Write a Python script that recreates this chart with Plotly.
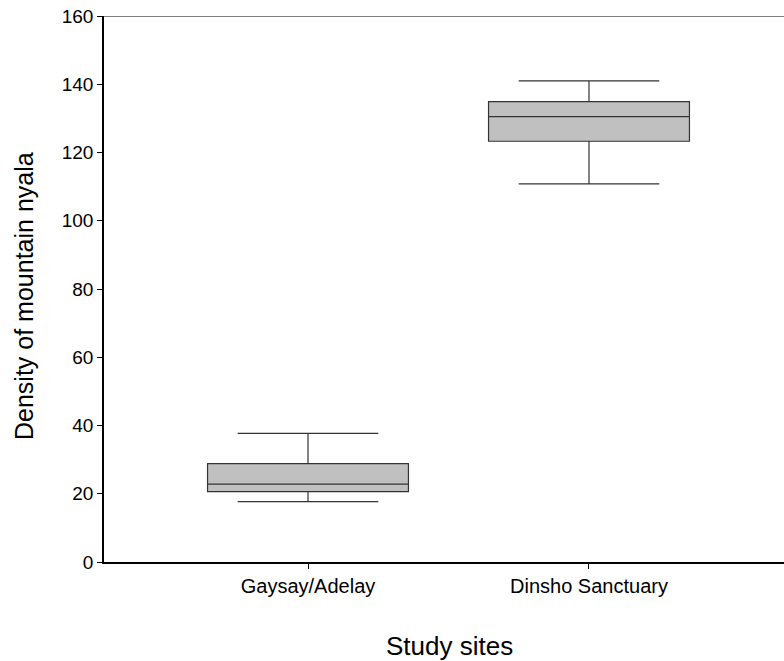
import plotly.graph_objects as go

sites = ["Gaysay/Adelay", "Dinsho Sanctuary"]
positions = [0, 1]
lower_whisker = [17.7, 110.8]
q1 = [20.6, 123.3]
median = [22.8, 130.5]
q3 = [28.8, 134.9]
upper_whisker = [37.7, 141.0]
y_ticks = [0, 20, 40, 60, 80, 100, 120, 140, 160]

fig = go.Figure()
fig.add_trace(go.Box(
    x=positions,
    q1=q1, median=median, q3=q3,
    lowerfence=lower_whisker, upperfence=upper_whisker,
    width=0.715,
    whiskerwidth=0.7,
    fillcolor="#c0c0c0",
    line=dict(color="#333333", width=1.2),
    boxpoints=False,
    hoverinfo="skip",
    showlegend=False,
))

font_family = "Liberation Sans, Arial, sans-serif"

fig.update_layout(
    width=784, height=661,
    margin=dict(l=104, r=0, t=16, b=99),
    paper_bgcolor="white", plot_bgcolor="white",
    font=dict(family=font_family, color="black"),
    xaxis=dict(
        range=[-0.726, 1.694],
        tickmode="array", tickvals=positions, ticktext=sites,
        showline=True, linecolor="black", linewidth=1.5,
        ticks="outside", ticklen=5, tickcolor="black",
        showgrid=False, zeroline=False,
        tickfont=dict(size=20),
    ),
    yaxis=dict(
        range=[0, 160],
        tickmode="array", tickvals=y_ticks,
        showline=True, linecolor="black", linewidth=1.5,
        ticks="outside", ticklen=5, tickcolor="black",
        showgrid=False, zeroline=False,
        tickfont=dict(size=19),
    ),
    shapes=[dict(type="line", xref="paper", yref="y", x0=0, x1=1, y0=160, y1=160,
                 line=dict(color="#555555", width=1.5))],
    annotations=[
        dict(text="Study sites", xref="paper", yref="paper", x=(449-104)/680, y=-(646-562)/546,
             showarrow=False, xanchor="center", yanchor="middle", font=dict(size=26)),
        dict(text="Density of mountain nyala", xref="paper", yref="paper", x=-(104-24)/680, y=(562-296)/546,
             showarrow=False, xanchor="center", yanchor="middle", textangle=-90, font=dict(size=25)),
    ],
)

fig.write_html("out.html")
